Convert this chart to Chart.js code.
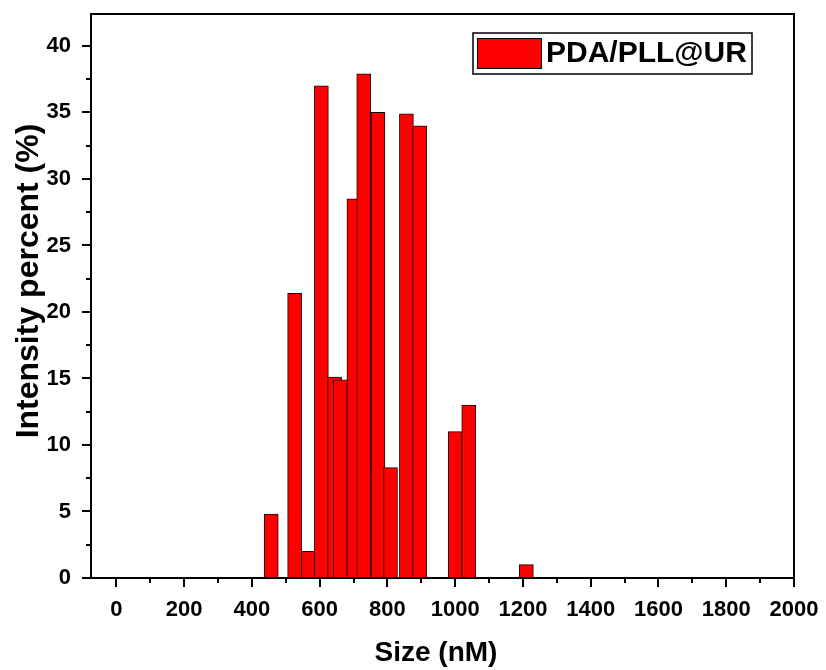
<!DOCTYPE html>
<html>
<head>
<meta charset="utf-8">
<title>PDA/PLL@UR size distribution</title>
<script src="https://cdn.jsdelivr.net/npm/chart.js@4.4.1/dist/chart.umd.min.js"></script>
<style>
  html, body { margin: 0; padding: 0; background: #ffffff; }
  #wrap { width: 826px; height: 670px; }
</style>
</head>
<body>
<div id="wrap"><canvas id="sizeChart" width="826" height="670"></canvas></div>
<script>
// Size bins (nM) and intensity percent per bin
const sizes = [457, 526, 567, 605, 644, 661, 701, 730, 772, 809, 856, 895, 1000, 1040, 1210];
const intensity = [4.8, 21.4, 2.0, 37.0, 15.1, 14.9, 28.5, 37.9, 35.0, 8.3, 34.9, 34.0, 11.0, 13.0, 1.0];
const seriesName = 'PDA/PLL@UR';
const xTitle = 'Size (nM)';
const yTitle = 'Intensity percent (%)';

// Axis ticks
const xMajorTicks = [0, 200, 400, 600, 800, 1000, 1200, 1400, 1600, 1800, 2000];
const xMinorTicks = [100, 300, 500, 700, 900, 1100, 1300, 1500, 1700, 1900];
const yMajorTicks = [0, 5, 10, 15, 20, 25, 30, 35, 40];
const yMinorTicks = [2.5, 7.5, 12.5, 17.5, 22.5, 27.5, 32.5, 37.5];

const FONT = '"Liberation Sans", Arial, Helvetica, sans-serif';

// Outward major/minor tick marks, frame, axis titles and in-plot legend
const framePlugin = {
    id: 'frame',
    afterDraw(chart) {
        const ctx = chart.ctx;
        const area = chart.chartArea;
        const xs = chart.scales.x;
        const ys = chart.scales.y;
        ctx.save();
        ctx.strokeStyle = '#000';
        ctx.lineWidth = 2;
        ctx.strokeRect(area.left, area.top, area.right - area.left, area.bottom - area.top);

        ctx.beginPath();
        xMajorTicks.forEach(v => {
            const px = Math.round(xs.getPixelForValue(v));
            ctx.moveTo(px, area.bottom); ctx.lineTo(px, area.bottom + 9);
        });
        xMinorTicks.forEach(v => {
            const px = Math.round(xs.getPixelForValue(v));
            ctx.moveTo(px, area.bottom); ctx.lineTo(px, area.bottom + 5);
        });
        yMajorTicks.forEach(v => {
            const py = Math.round(ys.getPixelForValue(v));
            ctx.moveTo(area.left, py); ctx.lineTo(area.left - 9, py);
        });
        yMinorTicks.forEach(v => {
            const py = Math.round(ys.getPixelForValue(v));
            ctx.moveTo(area.left, py); ctx.lineTo(area.left - 5, py);
        });
        ctx.stroke();

        // axis titles
        ctx.fillStyle = '#000';
        ctx.textAlign = 'center';
        ctx.textBaseline = 'middle';
        ctx.font = 'bold 28px ' + FONT;
        ctx.fillText(xTitle, 436, 653);
        ctx.save();
        ctx.translate(29, 281);
        ctx.rotate(-Math.PI / 2);
        ctx.font = 'bold 32px ' + FONT;
        ctx.fillText(yTitle, 0, 0);
        ctx.restore();

        // legend box
        const ds = chart.data.datasets[0];
        ctx.lineWidth = 1.5;
        ctx.strokeRect(473, 33, 279, 41);
        ctx.fillStyle = ds.backgroundColor;
        ctx.fillRect(477, 38, 65, 31);
        ctx.lineWidth = 1;
        ctx.strokeRect(477.5, 38.5, 64, 30);
        ctx.fillStyle = '#000';
        ctx.font = 'bold 30px ' + FONT;
        ctx.textBaseline = 'middle';
        ctx.textAlign = 'left';
        ctx.fillText(ds.label, 546, 54);
        ctx.restore();
    }
};

new Chart(document.getElementById('sizeChart'), {
    type: 'bar',
    data: {
        datasets: [{
            label: seriesName,
            data: sizes.map((s, i) => ({ x: s, y: intensity[i] })),
            backgroundColor: '#ff0000',
            borderColor: '#1a0000',
            borderWidth: 1,
            borderSkipped: false,
            barThickness: 14
        }]
    },
    options: {
        responsive: false,
        animation: false,
        events: [],
        layout: { padding: { left: 0, right: 32, top: 14, bottom: 0 } },
        plugins: {
            legend: { display: false },
            tooltip: { enabled: false }
        },
        scales: {
            x: {
                type: 'linear',
                offset: false,
                min: -75,
                max: 2000,
                afterBuildTicks: scale => { scale.ticks = xMajorTicks.map(v => ({ value: v })); },
                afterFit: scale => {
                    scale.height = 92;
                    scale.paddingLeft = 0;
                    scale.paddingRight = 0;
                },
                grid: { display: false, drawTicks: false },
                border: { display: false },
                ticks: {
                    color: '#000',
                    padding: 19,
                    maxRotation: 0,
                    autoSkip: false,
                    callback: v => String(v),
                    font: { family: FONT, size: 22, weight: 'bold' }
                },
                title: { display: false }
            },
            y: {
                min: 0,
                max: 42.4,
                afterBuildTicks: scale => { scale.ticks = yMajorTicks.map(v => ({ value: v })); },
                afterFit: scale => {
                    scale.width = 91;
                    scale.paddingTop = 0;
                    scale.paddingBottom = 0;
                },
                grid: { display: false, drawTicks: false },
                border: { display: false },
                ticks: {
                    color: '#000',
                    padding: 20,
                    autoSkip: false,
                    font: { family: FONT, size: 22, weight: 'bold' }
                },
                title: { display: false }
            }
        }
    },
    plugins: [framePlugin]
});
</script>
</body>
</html>
